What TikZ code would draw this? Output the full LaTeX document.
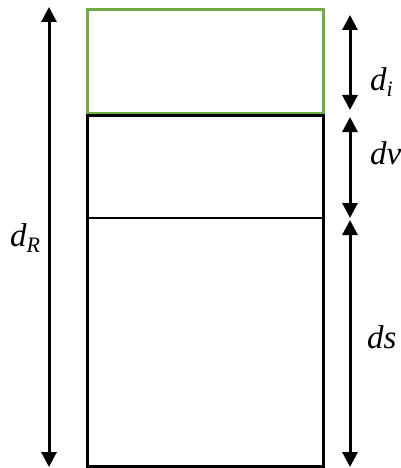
\documentclass[tikz,border=0pt]{standalone}
\usepackage{fontspec}
\setmainfont{Liberation Serif}
\newfontfamily\lblfont{Liberation Serif}
\usetikzlibrary{arrows.meta}
\definecolor{boxgreen}{RGB}{112,173,71}
\newcommand{\lbl}[2]{{\lblfont\fontsize{33}{38}\selectfont\itshape #1\raisebox{-0.2em}{\fontsize{22}{26}\selectfont #2}}}
\tikzset{
  dim/.style={line width=3pt,{Triangle[length=15pt,width=15pt]}-{Triangle[length=15pt,width=15pt]}},
  lab/.style={inner sep=0pt,anchor=west},
}
\begin{document}
\begin{tikzpicture}[x=1pt,y=-1pt]
\useasboundingbox (0,0) rectangle (400,468);
% boxes
\coordinate (gTL) at (87,10);
\coordinate (gBR) at (323,114);
\coordinate (bTL) at (87,116);
\coordinate (bBR) at (323,466);
\coordinate (mL) at (87,218);
\coordinate (mR) at (322,218);
\draw[boxgreen,line width=3pt] (gTL) rectangle (gBR);
\draw[black,line width=3pt] (bTL) rectangle (bBR);
\draw[black,line width=1.2pt] (mL) -- (mR);
% dimension arrows
\coordinate (RT) at (49,7);
\coordinate (RB) at (49,467);
\draw[dim] (RT) -- (RB);
\coordinate (iT) at (350,15);
\coordinate (iB) at (350,110);
\draw[dim] (iT) -- (iB);
\coordinate (vT) at (350,117);
\coordinate (vB) at (350,218);
\draw[dim] (vT) -- (vB);
\coordinate (sT) at (350,220);
\coordinate (sB) at (350,467);
\draw[dim] (sT) -- (sB);
% labels
\node[lab] (ldi) at (370,82) {\lbl{d}{i}};
\node[lab] (ldv) at (370,156) {\lbl{dv}{}};
\node[lab] (lds) at (367,340) {\lbl{ds}{}};
\node[lab] (ldR) at (10,238) {\lbl{d}{R}};
\end{tikzpicture}
\end{document}
